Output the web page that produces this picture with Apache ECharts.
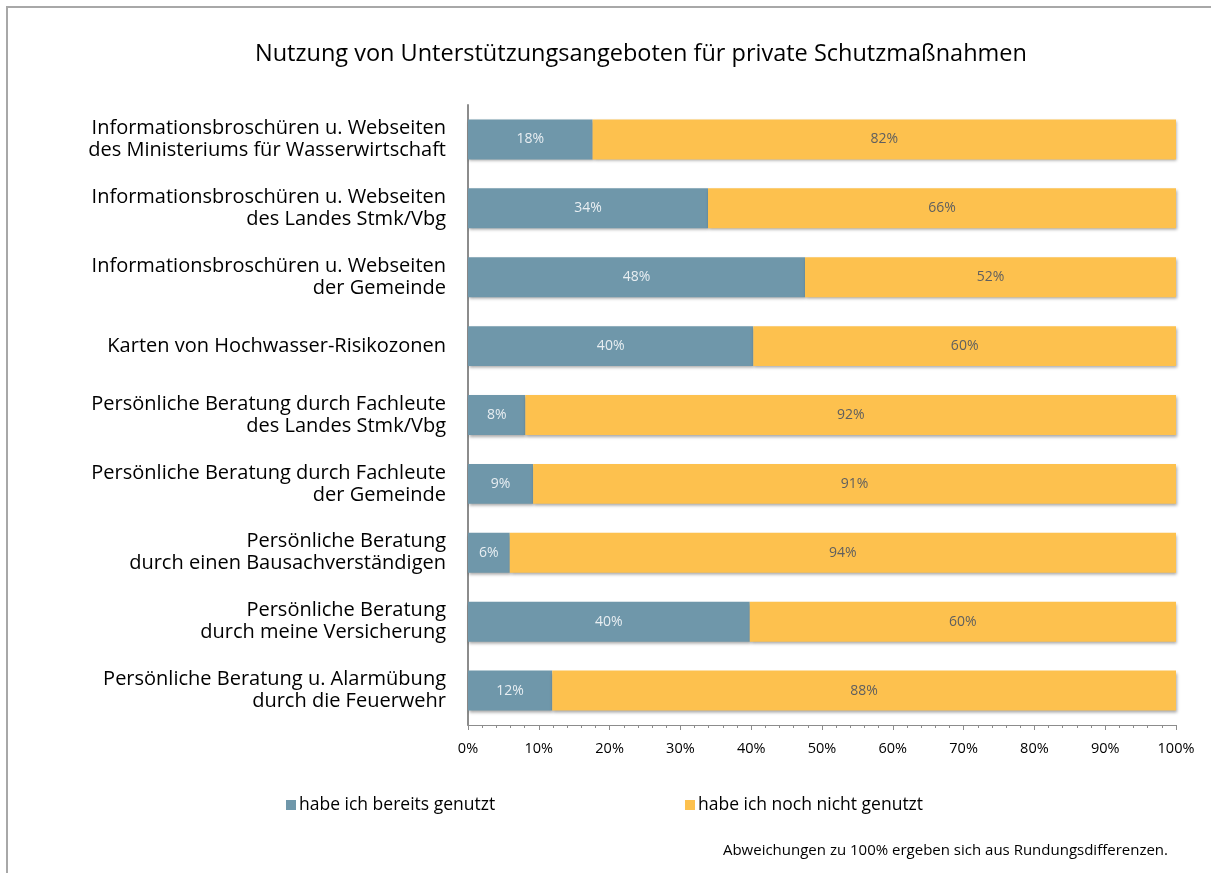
<!DOCTYPE html>
<html>
<head>
<meta charset="utf-8">
<script src="https://cdn.jsdelivr.net/npm/echarts@6/dist/echarts.min.js"></script>
<style>
html,body{margin:0;padding:0;background:#fff;}
#chart{width:1211px;height:873px;}
</style>
</head>
<body>
<div id="chart"></div>
<script>
const titleText = 'Nutzung von Unterstützungsangeboten für private Schutzmaßnahmen';
const categories = [
  'Informationsbroschüren u. Webseiten\ndes Ministeriums für Wasserwirtschaft',
  'Informationsbroschüren u. Webseiten\ndes Landes Stmk/Vbg',
  'Informationsbroschüren u. Webseiten\nder Gemeinde',
  'Karten von Hochwasser-Risikozonen',
  'Persönliche Beratung durch Fachleute\ndes Landes Stmk/Vbg',
  'Persönliche Beratung durch Fachleute\nder Gemeinde',
  'Persönliche Beratung\ndurch einen Bausachverständigen',
  'Persönliche Beratung\ndurch meine Versicherung',
  'Persönliche Beratung u. Alarmübung\ndurch die Feuerwehr'
];
const seriesNames = ['habe ich bereits genutzt', 'habe ich noch nicht genutzt'];
const usedValues    = [17.6, 33.9, 47.6, 40.3, 8.1, 9.2, 5.9, 39.8, 11.9];
const notUsedValues = [82.4, 66.1, 52.4, 59.7, 91.9, 90.8, 94.1, 60.2, 88.1];
const footnote = 'Abweichungen zu 100% ergeben sich aus Rundungsdifferenzen.';

const FONT = '"Open Sans", Lato, sans-serif';
const chart = echarts.init(document.getElementById('chart'), null, {renderer: 'canvas'});

const shadow = {shadowColor: 'rgba(0,0,0,0.35)', shadowBlur: 3, shadowOffsetX: 1, shadowOffsetY: 2};

chart.setOption({
  animation: false,
  backgroundColor: '#fff',
  title: {
    text: titleText,
    left: 250,
    top: 37,
    textStyle: {fontFamily: FONT, fontSize: 23.5, fontWeight: 'normal', color: '#000'}
  },
  legend: [
    {
      data: [seriesNames[0]],
      left: 281, top: 791,
      itemWidth: 10, itemHeight: 10, itemGap: 0,
      icon: 'rect',
      textStyle: {fontFamily: FONT, fontSize: 17.5, color: '#000', padding: [0,0,0,-2]}
    },
    {
      data: [seriesNames[1]],
      left: 680, top: 791,
      itemWidth: 10, itemHeight: 10, itemGap: 0,
      icon: 'rect',
      textStyle: {fontFamily: FONT, fontSize: 17.5, color: '#000', padding: [0,0,0,-2]}
    }
  ],
  grid: {left: 468, right: 35, top: 105, bottom: 148, containLabel: false},
  xAxis: {
    type: 'value',
    min: 0, max: 100, interval: 10,
    axisLine: {show: true, lineStyle: {color: '#8c8c8c', width: 1}},
    axisTick: {show: true, length: 5, lineStyle: {color: '#8c8c8c'}},
    minorTick: {show: true, splitNumber: 5, length: 3, lineStyle: {color: '#8c8c8c'}},
    splitLine: {show: false},
    axisLabel: {formatter: '{value}%', fontFamily: FONT, fontSize: 14.5, color: '#000', margin: 16}
  },
  yAxis: {
    type: 'category',
    data: categories,
    inverse: true,
    axisLine: {show: true, lineStyle: {color: '#8c8c8c', width: 2}},
    axisTick: {show: false},
    axisLabel: {fontFamily: FONT, fontSize: 20, color: '#000', lineHeight: 22, margin: 22, align: 'right', padding: [5, 0, 0, 0]}
  },
  series: [
    {
      name: seriesNames[0],
      type: 'bar',
      stack: 'total',
      data: usedValues,
      barCategoryGap: '42%',
      itemStyle: Object.assign({color: '#6f97aa'}, shadow),
      label: {
        show: true, position: 'inside',
        formatter: p => Math.round(p.value) + '%',
        fontFamily: FONT, fontSize: 14, color: '#e8eef2'
      }
    },
    {
      name: seriesNames[1],
      type: 'bar',
      stack: 'total',
      data: notUsedValues,
      barCategoryGap: '42%',
      itemStyle: Object.assign({color: '#fdc14e'}, shadow),
      label: {
        show: true, position: 'inside',
        formatter: p => Math.round(p.value) + '%',
        fontFamily: FONT, fontSize: 14, color: '#5f5f5f'
      }
    }
  ],
  graphic: [
    {
      type: 'polyline',
      shape: {points: [[7, 900], [7, 7], [1240, 7]]},
      style: {stroke: '#a8a8a8', lineWidth: 2, fill: null}
    },
    {
      type: 'text',
      right: 43, top: 843,
      style: {text: footnote, fontFamily: FONT, fontSize: 15, fill: '#000', textAlign: 'right'}
    }
  ]
});
</script>
</body>
</html>
